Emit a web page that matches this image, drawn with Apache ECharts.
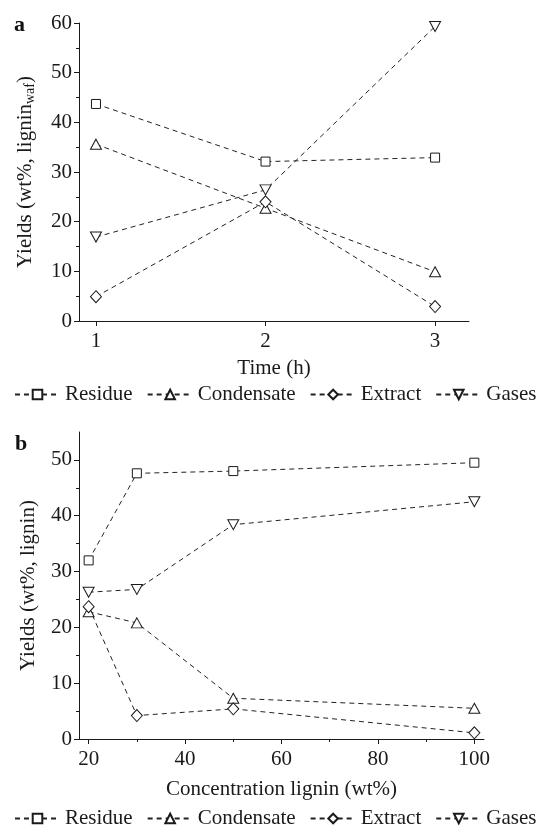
<!DOCTYPE html>
<html>
<head>
<meta charset="utf-8">
<script src="https://cdn.jsdelivr.net/npm/echarts@6/dist/echarts.min.js"></script>
<style>
    html, body { margin: 0; padding: 0; background: #fff; }
    #main { width: 541px; height: 825px; }
</style>
</head>
<body>
<div id="main"></div>
<script>
// panel a: time series
const timeH        = [1, 2, 3];
const residueA     = [43.7, 32.1, 32.9];
const condensateA  = [35.6, 22.7, 9.9];
const extractA     = [4.9, 24.0, 2.9];
const gasesA       = [16.9, 26.4, 59.3];

// panel b: lignin concentration
const concLignin   = [20, 30, 50, 100];
const residueB     = [32.0, 47.6, 48.0, 49.5];
const condensateB  = [22.8, 20.8, 7.3, 5.5];
const extractB     = [23.7, 4.2, 5.4, 1.1];
const gasesB       = [26.3, 26.8, 38.4, 42.5];

// ticks
const timeTicks    = [1, 2, 3];
const yTicksA      = [0, 10, 20, 30, 40, 50, 60];
const yMinorA      = [5, 15, 25, 35, 45, 55];
const concTicks    = [20, 40, 60, 80, 100];
const concMinor    = [30, 50, 70, 90];
const yTicksB      = [0, 10, 20, 30, 40, 50];
const yMinorB      = [5, 15, 25, 35, 45];

const names = ["Residue", "Condensate", "Extract", "Gases"];

const FONT = "Liberation Serif";
const INK  = "#1a1a1a";
const FS   = 21;

let myChart = echarts.init(document.getElementById('main'));

function mainX(grid, min, max, ticks, name, gap){
    return {
        gridIndex: grid, type: "value", min: min, max: max,
        name: name, nameLocation: "middle", nameGap: gap,
        nameTextStyle: { fontFamily: FONT, fontSize: FS, color: INK },
        axisLine: { onZero: false, lineStyle: { color: INK, width: 1 } },
        axisTick: { customValues: ticks, length: 5, lineStyle: { color: INK } },
        axisLabel: { customValues: ticks, margin: 10, fontFamily: FONT, fontSize: FS, color: INK },
        splitLine: { show: false }
    };
}
function minorX(grid, min, max, ticks){
    return {
        gridIndex: grid, type: "value", min: min, max: max, position: "bottom",
        axisLine: { show: false },
        axisTick: { customValues: ticks, length: 3, lineStyle: { color: INK } },
        axisLabel: { show: false },
        splitLine: { show: false }
    };
}
function mainY(grid, max, ticks, name, gap, rich){
    return {
        gridIndex: grid, type: "value", min: 0, max: max, position: "left",
        name: name, nameLocation: "middle", nameGap: gap,
        nameTextStyle: { fontFamily: FONT, fontSize: FS, color: INK, rich: rich },
        axisLine: { show: true, onZero: false, lineStyle: { color: INK, width: 1 } },
        axisTick: { show: true, customValues: ticks, length: 5, lineStyle: { color: INK } },
        axisLabel: { customValues: ticks, margin: 7, fontFamily: FONT, fontSize: FS, color: INK },
        splitLine: { show: false }
    };
}
function minorY(grid, max, ticks){
    return {
        gridIndex: grid, type: "value", min: 0, max: max, position: "left", offset: 0,
        axisLine: { show: false },
        axisTick: { show: true, customValues: ticks, length: 3, lineStyle: { color: INK } },
        axisLabel: { show: false },
        splitLine: { show: false }
    };
}

// marker look for each series
const symbols = [
    { symbol: "rect", size: 9, rotate: 0 },
    { symbol: "triangle", size: [11, 10], rotate: 0 },
    { symbol: "diamond", size: [11, 12], rotate: 0 },
    { symbol: "triangle", size: [11, 10], rotate: 180 }
];

function makeSeries(xs, lists, xIdx, yIdx){
    let series = [];
    lists.forEach((vals, i) => {
        series.push({
            name: names[i],
            type: "line",
            xAxisIndex: xIdx,
            yAxisIndex: yIdx,
            data: xs.map((x, k) => [x, vals[k]]),
            symbol: symbols[i].symbol,
            symbolSize: symbols[i].size,
            symbolRotate: symbols[i].rotate,
            showAllSymbol: true,
            lineStyle: { color: "#222", width: 1, type: [5, 4] },
            itemStyle: { color: "#fff", borderColor: INK, borderWidth: 1, opacity: 1 },
            emphasis: { disabled: true }
        });
    });
    return series;
}

function makeLegend(top){
    return {
        data: names,
        left: 14, top: top, width: 527, padding: 0,
        itemWidth: 45, itemHeight: 12, itemGap: 14,
        selectedMode: false,
        textStyle: { fontFamily: FONT, fontSize: FS, color: INK }
    };
}

myChart.setOption({
    animation: false,
    grid: [
        { left: 79, top: 23, width: 390, height: 298 },
        { left: 79, top: 432, width: 405, height: 307 }
    ],
    legend: [ makeLegend(384), makeLegend(808) ],
    xAxis: [
        mainX(0, 0.9, 3.2, timeTicks, "Time (h)", 37),
        minorX(0, 0.9, 3.2, []),
        mainX(1, 18, 102, concTicks, "Concentration lignin (wt%)", 40),
        minorX(1, 18, 102, concMinor)
    ],
    yAxis: [
        mainY(0, 60, yTicksA, "{n|Yields (wt%, lignin}{s|waf}{n|)}", 42, {
            n: { fontFamily: FONT, fontSize: FS, color: INK, lineHeight: 24, verticalAlign: "middle" },
            s: { fontFamily: FONT, fontSize: 14, color: INK, lineHeight: 24, verticalAlign: "bottom" }
        }),
        minorY(0, 60, yMinorA),
        mainY(1, 55, yTicksB, "Yields (wt%, lignin)", 40),
        minorY(1, 55, yMinorB)
    ],
    graphic: [
        { type: "text", left: 14, top: 14, style: { text: "a", font: "bold 22px " + FONT, fill: "#111" } },
        { type: "text", left: 15, top: 433, style: { text: "b", font: "bold 22px " + FONT, fill: "#111" } }
    ],
    series: []
        .concat(makeSeries(timeH, [residueA, condensateA, extractA, gasesA], 0, 0))
        .concat(makeSeries(concLignin, [residueB, condensateB, extractB, gasesB], 2, 2))
});
</script>
</body>
</html>
